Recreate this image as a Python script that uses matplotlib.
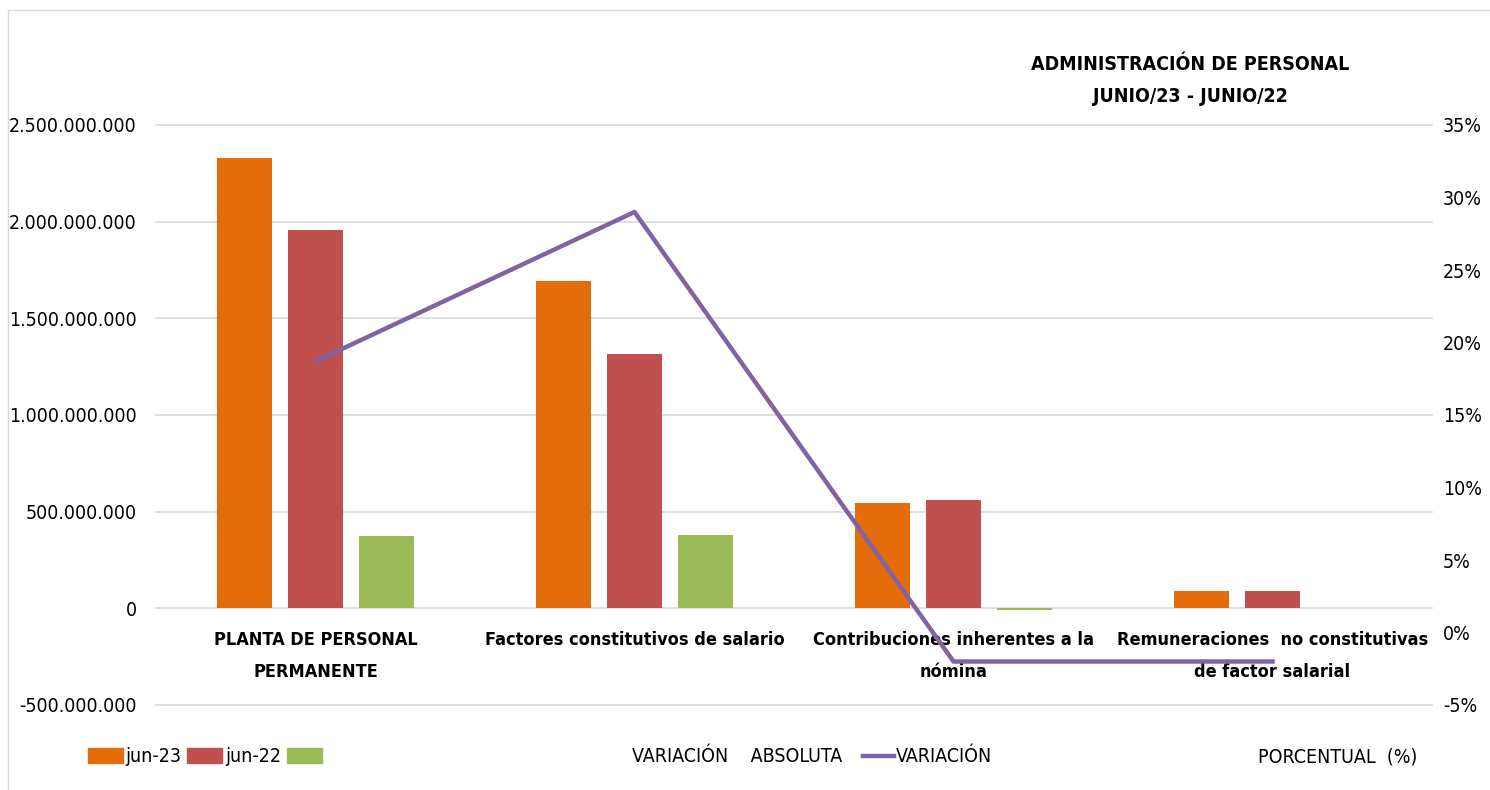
import matplotlib
matplotlib.use('Agg')
import matplotlib.pyplot as plt
import matplotlib.ticker as mticker
from matplotlib.patches import Patch, Rectangle
from matplotlib.lines import Line2D
import numpy as np

# datos
categorias = ['PLANTA DE PERSONAL\nPERMANENTE',
              'Factores constitutivos de salario',
              'Contribuciones inherentes a la\nnómina',
              'Remuneraciones  no constitutivas\nde factor salarial']
jun23 = [2329e6, 1693e6, 543e6, 88e6]
jun22 = [1956e6, 1315e6, 559e6, 88e6]
var_abs = [373e6, 378e6, -10e6, 0]
var_pct = [18.7, 29.0, -2.0, -2.0]

c23 = '#E46C0A'
c22 = '#C0504D'
cva = '#9BBB59'
cvp = '#8064A2'

plt.rcParams['font.family'] = 'DejaVu Sans'
plt.rcParams['font.stretch'] = 'condensed'
fs = 13

fig = plt.figure(figsize=(14.9, 7.9), dpi=100)
ax = fig.add_axes([156/1490, 1-705/790, (1432-156)/1490, 580/790])
x = np.arange(len(categorias))
w = 0.172
d = 0.223
ax.bar(x - d, jun23, w, color=c23, zorder=2)
ax.bar(x, jun22, w, color=c22, zorder=2)
ax.bar(x + d, var_abs, w, color=cva, zorder=2)

ax.set_xlim(-0.5, 3.5)
ax.set_ylim(-500e6, 2500e6)
ax.set_yticks(np.arange(-500e6, 2500e6 + 1, 500e6))
ax.yaxis.set_major_formatter(mticker.FuncFormatter(lambda v, p: f'{v:,.0f}'.replace(',', '.')))
ax.grid(axis='y', color='#D9D9D9', linewidth=1.2, zorder=0)
for gl in ax.get_ygridlines():
    gl.set_clip_on(False)
for s in ax.spines.values():
    s.set_visible(False)
ax.spines['bottom'].set_position(('data', 0))
ax.set_xticks(x)
ax.set_xticklabels(categorias, fontsize=fs, fontweight='bold', linespacing=2.0)
ax.tick_params(axis='x', length=0, pad=16)
ax.tick_params(axis='y', length=0, labelsize=fs + 1, pad=14)

ax2 = ax.twinx()
ax2.plot(x, var_pct, color=cvp, linewidth=3.2, zorder=3)
ax2.set_ylim(-5, 35)
ax2.set_yticks(np.arange(-5, 36, 5))
ax2.yaxis.set_major_formatter(mticker.FuncFormatter(lambda v, p: f'{v:.0f}%'))
ax2.tick_params(axis='y', length=0, labelsize=fs + 1, pad=8)
for s in ax2.spines.values():
    s.set_visible(False)

fig.text(1190/1490, 1-65/790, 'ADMINISTRACIÓN DE PERSONAL', ha='center', va='center',
         fontsize=fs + 1, fontweight='bold')
fig.text(1190/1490, 1-96/790, 'JUNIO/23 - JUNIO/22', ha='center', va='center',
         fontsize=fs + 1, fontweight='bold')

# leyenda
hs = [Patch(color=c23), Patch(color=c22), Patch(color=cva)]
fig.legend(hs, ['jun-23', 'jun-22', ''], ncol=3, loc='center left',
           bbox_to_anchor=(70/1490, 1-757/790), frameon=False, fontsize=fs + 1,
           handlelength=1.8, handleheight=0.8, handletextpad=0.15, columnspacing=0.3)
fig.text(632/1490, 1-757/790, 'VARIACIÓN    ABSOLUTA', ha='left', va='center', fontsize=fs + 1)
fig.legend([Line2D([], [], color=cvp, linewidth=3.2)], ['VARIACIÓN'], loc='center left',
           bbox_to_anchor=(845/1490, 1-757/790), frameon=False, fontsize=fs + 1,
           handlelength=1.6, handletextpad=0.1)
fig.text(1258/1490, 1-757/790, 'PORCENTUAL  (%)', ha='left', va='center', fontsize=fs + 1)

fig.patches.append(Rectangle((8/1490, -0.01), 1.1, 1 - 10/790 + 0.01, transform=fig.transFigure,
                             fill=False, edgecolor='#D9D9D9', linewidth=1))

fig.savefig('out.png', dpi=100)
